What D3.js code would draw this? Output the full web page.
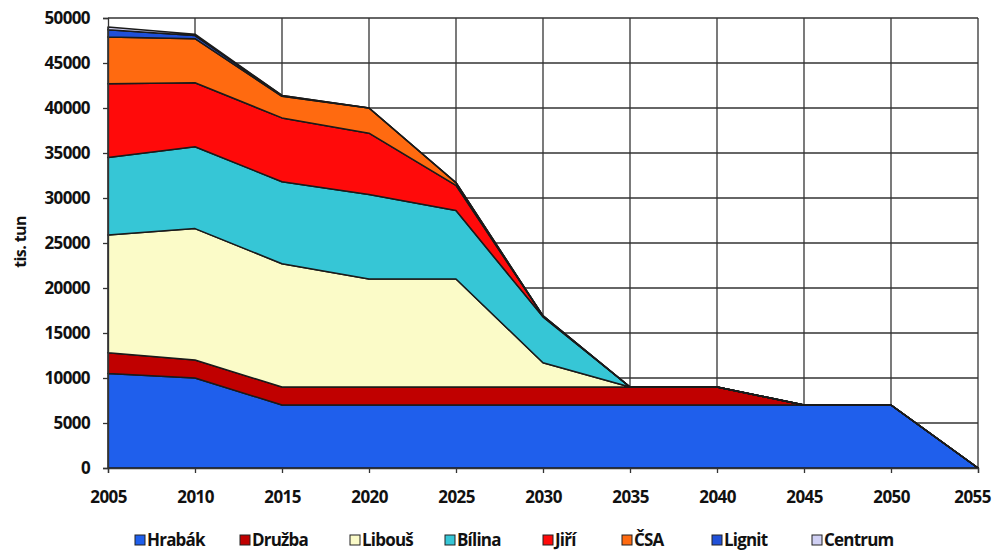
<!DOCTYPE html>
<html>
<head>
<meta charset="utf-8">
<script src="https://cdn.jsdelivr.net/npm/d3@7"></script>
<style>
  body { margin: 0; background: #fff; }
  text { font-family: "Open Sans", sans-serif; font-weight: 700; fill: #111; }
</style>
</head>
<body>
<svg width="992" height="555"></svg>
<script>
const years = [2005, 2010, 2015, 2020, 2025, 2030, 2035, 2040, 2045, 2050, 2055];
const mines = ["Hrabák", "Družba", "Libouš", "Bílina", "Jiří", "ČSA", "Lignit", "Centrum"];
const colors = ["#1f5fec", "#c00000", "#fbfbc8", "#36c6d6", "#ff0a0a", "#ff6a10", "#2050d8", "#d0d0f4"];

const hrabak  = [10500, 10000, 7000, 7000, 7000, 7000, 7000, 7000, 7000, 7000, 0];
const druzba  = [2300, 2000, 2000, 2000, 2000, 2000, 2000, 2000, 0, 0, 0];
const libous  = [13100, 14600, 13700, 12000, 12000, 2700, 0, 0, 0, 0, 0];
const bilina  = [8600, 9100, 9100, 9400, 7600, 5100, 0, 0, 0, 0, 0];
const jiri    = [8200, 7100, 7100, 6800, 2800, 100, 0, 0, 0, 0, 0];
const csa     = [5200, 4900, 2400, 2800, 300, 0, 0, 0, 0, 0, 0];
const lignit  = [800, 350, 100, 0, 0, 0, 0, 0, 0, 0, 0];
const centrum = [300, 150, 0, 0, 0, 0, 0, 0, 0, 0, 0];

const yTicks = d3.range(0, 50001, 5000);

const series = [hrabak, druzba, libous, bilina, jiri, csa, lignit, centrum];
const table = years.map((yr, i) => {
  const row = { year: yr };
  mines.forEach((m, j) => row[m] = series[j][i]);
  return row;
});

const svg = d3.select("svg");
const plotL = 108, plotR = 978, plotT = 18, plotB = 468;

const x = d3.scaleLinear().domain([2005, 2055]).range([plotL, plotR]);
const y = d3.scaleLinear().domain([0, 50000]).range([plotB, plotT]);

// grid
svg.append("g")
  .selectAll("line")
  .data(yTicks.slice(1))
  .join("line")
  .attr("x1", plotL).attr("x2", plotR)
  .attr("y1", d => y(d)).attr("y2", d => y(d))
  .attr("stroke", "#333").attr("stroke-width", 1.3);

svg.append("g")
  .selectAll("line")
  .data(years.slice(1))
  .join("line")
  .attr("x1", d => x(d)).attr("x2", d => x(d))
  .attr("y1", plotT).attr("y2", plotB)
  .attr("stroke", "#333").attr("stroke-width", 1.3);

const stacked = d3.stack().keys(mines)(table);

const area = d3.area()
  .x(d => x(d.data.year))
  .y0(d => y(d[0]))
  .y1(d => y(d[1]));

svg.append("g")
  .selectAll("path")
  .data(stacked)
  .join("path")
  .attr("d", area)
  .attr("fill", (d, i) => colors[i])
  .attr("stroke", "#1a1a1a")
  .attr("stroke-width", 1.5)
  .attr("stroke-linejoin", "round");

// axes
const yAxis = svg.append("g")
  .attr("transform", `translate(${plotL},0)`)
  .call(d3.axisLeft(y).tickValues(yTicks).tickSize(5).tickPadding(13).tickFormat(d3.format("d")));
yAxis.select(".domain").attr("stroke", "#333").attr("stroke-width", 1.3);
yAxis.selectAll(".tick line").attr("stroke", "#333").attr("stroke-width", 1.3);
yAxis.selectAll("text").style("font-size", "17px").attr("letter-spacing", "-0.6");

const xAxis = svg.append("g")
  .attr("transform", `translate(0,${plotB})`)
  .call(d3.axisBottom(x).tickValues(years).tickSize(5).tickPadding(18).tickFormat(d3.format("d")));
xAxis.select(".domain").attr("stroke", "#333").attr("stroke-width", 1.3);
xAxis.selectAll(".tick line").attr("stroke", "#333").attr("stroke-width", 1.3);
xAxis.selectAll("text").style("font-size", "17px").attr("letter-spacing", "-0.6");
// keep the last year label inside the page
xAxis.selectAll(".tick text").filter(d => d === 2055).attr("x", -6);

svg.append("text")
  .attr("transform", `translate(20,242) rotate(-90)`)
  .attr("text-anchor", "middle")
  .attr("dy", "0.35em")
  .style("font-size", "16px")
  .attr("letter-spacing", "-0.6")
  .text("tis. tun");

// legend
const legendX = [135, 240, 350, 445, 543, 622, 712, 812];
const lg = svg.append("g")
  .selectAll("g")
  .data(mines)
  .join("g")
  .attr("transform", (d, i) => `translate(${legendX[i]},540)`);

lg.append("rect")
  .attr("x", 0).attr("y", -5)
  .attr("width", 10).attr("height", 10)
  .attr("fill", (d, i) => colors[i])
  .attr("stroke", "#222").attr("stroke-width", 1);

lg.append("text")
  .attr("x", 12).attr("y", 0)
  .attr("dy", "0.35em")
  .style("font-size", "17px")
  .attr("letter-spacing", "-0.8")
  .text(d => d);
</script>
</body>
</html>
